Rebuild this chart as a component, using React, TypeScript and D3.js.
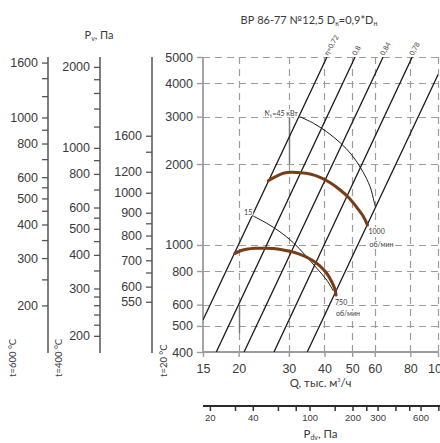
import React, { useEffect, useRef } from "react";
import * as d3 from "d3";

// main field: Q, thousand m3/h  vs  Pv, Pa (t=20 °C)
const qTicks = [15, 20, 30, 40, 50, 60, 80, 100];
const pTicks = [400, 500, 600, 800, 1000, 2000, 3000, 4000, 5000];

// dynamic pressure axis (bottom)
const pdvTicks = [20, 30, 40, 60, 80, 100, 150, 200, 250, 300, 400, 500, 600, 800];
const pdvLabels = [20, 40, 100, 200, 300, 600];
const pdvAtQ15 = 17.9;

// fan curves
const rpm1000Q = [25.4, 27.2, 28.7, 30.7, 32.8, 35.6, 38.6, 41.9, 45.4, 48.5, 51.9, 54.8, 56.6];
const rpm1000P = [1734, 1804, 1847, 1862, 1856, 1835, 1784, 1704, 1601, 1504, 1380, 1274, 1186];
const rpm750Q = [19.4, 20.2, 21.3, 22.8, 24.4, 26.5, 28.7, 31.1, 33.7, 36.1, 38.6, 40.7, 42.4, 43.6, 43.9];
const rpm750P = [931, 950, 964, 972, 972, 970, 958, 941, 912, 879, 835, 785, 730, 680, 651];

// installed power lines
const n45Q = [32.8, 36.6, 40.7, 45.4, 49.9, 54.1, 57.8, 59.7, 60.2];
const n45P = [2998, 2834, 2637, 2400, 2160, 1900, 1647, 1448, 1396];
const n15Q = [22.5, 25.1, 27.9, 31.1, 34.2, 37.6, 40.7, 43.0];
const n15P = [1281, 1204, 1120, 1020, 918, 819, 741, 674];

// efficiency lines (upper and lower end)
const etaLabels = ["η=0,72", "0,8", "0,84", "0,78", ""];
const etaTopQ = [40.8, 51.2, 64.2, 81.2, 107];
const etaTopP = [5000, 5000, 5000, 5000, 5000];
const etaLowQ = [15, 16.7, 20.9, 26.6, 34.8];
const etaLowP = [526, 400, 400, 400, 400];

// leader segments on grid
const leaderQ = [30, 20];
const leaderTop = [3000, 600];
const leaderLow = [2000, 470];

// Pv scales for other temperatures
const pv600Ticks = [1600, 1400, 1200, 1000, 900, 800, 700, 600, 550, 500, 450, 400, 350, 300, 250, 200];
const pv600Labels = [1600, 1000, 800, 600, 500, 400, 300, 200];
const pv400Ticks = [2000, 1800, 1600, 1400, 1200, 1000, 900, 800, 700, 600, 550, 500, 450, 400, 350, 300, 280, 260, 240, 220, 200];
const pv400Labels = [2000, 1000, 800, 600, 500, 400, 300, 200];
const pv20Ticks = [550, 600, 650, 700, 750, 800, 850, 900, 1000, 1200, 1400, 1600];
const pv20OnMain = [615, 700, 790, 877, 972, 1084, 1204, 1318, 1564, 1872, 2222, 2548];
const pv20Labels = [550, 600, 700, 800, 900, 1000, 1200, 1600];

const Chart = () => {
  const chartRef = useRef(null);

  useEffect(() => {
    drawChart();
  }, []);

  const drawChart = () => {
    const svg = d3.select(chartRef.current);
    svg.selectAll("*").remove();
    svg.style("font-family", "Lato, 'Liberation Sans', sans-serif");

    const txt = "#3a3a3a";
    const gridColor = "#9c9c9c";
    const left = 203;
    const right = 438;
    const top = 57;
    const bottom = 352;
    const pdvY = 406;

    const x = d3.scaleLog().domain([15, 100]).range([left, right]);
    const y = d3.scaleLog().domain([400, 5000]).range([bottom, top]);

    const pdv = d3
      .scaleLog()
      .domain([pdvAtQ15, pdvAtQ15 * Math.pow(100 / 15, 2)])
      .range([left, right]);

    svg
      .append("defs")
      .append("clipPath")
      .attr("id", "plot")
      .append("rect")
      .attr("x", left)
      .attr("y", top)
      .attr("width", right - left)
      .attr("height", bottom - top);

    // title
    const title = svg
      .append("text")
      .attr("x", 309)
      .attr("y", 24)
      .attr("text-anchor", "middle")
      .attr("font-size", 11)
      .attr("fill", txt);
    title.append("tspan").text("ВР 86-77 №12,5    D");
    title.append("tspan").attr("font-size", 7).attr("dy", 2).text("к");
    title.append("tspan").attr("dy", -2).text("=0,9*D");
    title.append("tspan").attr("font-size", 7).attr("dy", 2).text("н");

    // grid
    const grid = svg.append("g");
    qTicks.slice(1).forEach((q) => {
      grid
        .append("path")
        .attr("d", `M${Math.round(x(q)) + 0.5},${y(5000)}V${y(400)}`)
        .attr("fill", "none")
        .attr("stroke", gridColor)
        .attr("stroke-width", 1.2)
        .attr("stroke-dasharray", "7,5");
    });
    pTicks.slice(1).forEach((p) => {
      grid
        .append("path")
        .attr("d", `M${x(15)},${Math.round(y(p)) + 0.5}H${x(100)}`)
        .attr("fill", "none")
        .attr("stroke", gridColor)
        .attr("stroke-width", 1.2)
        .attr("stroke-dasharray", "7,5");
    });

    leaderQ.forEach((q, i) => {
      grid
        .append("path")
        .attr("d", `M${Math.round(x(q)) + 0.5},${y(leaderTop[i])}V${y(leaderLow[i])}`)
        .attr("stroke", "#777")
        .attr("stroke-width", 1.4);
    });

    // main axes
    const yAxis = svg
      .append("g")
      .attr("transform", `translate(${left},0)`)
      .call(
        d3
          .axisLeft(y)
          .tickValues(pTicks)
          .tickFormat(d3.format("d"))
          .tickSize(6)
          .tickSizeOuter(0)
          .tickPadding(4)
      );
    yAxis.select(".domain").remove();
    yAxis.selectAll(".tick line").attr("stroke", gridColor).attr("stroke-width", 1.4);
    yAxis.selectAll("text").attr("font-size", 12.5).attr("fill", txt);

    const xAxis = svg
      .append("g")
      .attr("transform", `translate(0,${bottom})`)
      .call(
        d3
          .axisBottom(x)
          .tickValues(qTicks)
          .tickFormat(d3.format("d"))
          .tickSize(5)
          .tickSizeOuter(0)
          .tickPadding(7)
      );
    xAxis.select(".domain").remove();
    xAxis.selectAll(".tick line").attr("stroke", gridColor).attr("stroke-width", 1.4);
    xAxis.selectAll("text").attr("font-size", 12.5).attr("fill", txt);

    svg
      .append("path")
      .attr("d", `M${left},${top}V${bottom}H${right}`)
      .attr("fill", "none")
      .attr("stroke", gridColor)
      .attr("stroke-width", 1.8);

    const qLabel = svg
      .append("text")
      .attr("x", (left + right) / 2)
      .attr("y", 387)
      .attr("text-anchor", "middle")
      .attr("font-size", 11.5)
      .attr("fill", txt);
    qLabel.append("tspan").text("Q, тыс. м");
    qLabel.append("tspan").attr("font-size", 5).attr("dy", -5).text("3");
    qLabel.append("tspan").attr("dy", 5).text("/ч");

    // dynamic pressure axis
    const pdvAxis = svg
      .append("g")
      .attr("transform", `translate(0,${pdvY})`)
      .call(
        d3
          .axisBottom(pdv)
          .tickValues(pdvTicks)
          .tickFormat((d) => (pdvLabels.includes(d) ? String(d) : ""))
          .tickSize(5)
          .tickSizeOuter(0)
          .tickPadding(3)
      );
    pdvAxis.select(".domain").remove();
    pdvAxis.selectAll(".tick line").attr("stroke", "#333").attr("stroke-width", 1.5);
    pdvAxis.selectAll("text").attr("font-size", 9.5).attr("fill", txt);

    svg
      .append("rect")
      .attr("x", left)
      .attr("y", pdvY - 1)
      .attr("width", 440 - left)
      .attr("height", 2)
      .attr("fill", "#2a2a2a");

    const pdvLabel = svg
      .append("text")
      .attr("x", (left + right) / 2)
      .attr("y", 438)
      .attr("text-anchor", "middle")
      .attr("font-size", 11.5)
      .attr("fill", txt);
    pdvLabel.append("tspan").text("P");
    pdvLabel.append("tspan").attr("font-size", 7).attr("dy", 2).text("dv");
    pdvLabel.append("tspan").attr("dy", -2).text(", Па");

    // plot content
    const plot = svg.append("g").attr("clip-path", "url(#plot)");

    const line = d3
      .line()
      .x((d) => x(d[0]))
      .y((d) => y(d[1]));

    const etaData = etaTopQ.map((q, i) => [
      [q, etaTopP[i]],
      [etaLowQ[i], etaLowP[i]],
    ]);

    plot
      .selectAll(".eta")
      .data(etaData)
      .join("path")
      .attr("fill", "none")
      .attr("stroke", "#1a1a1a")
      .attr("stroke-width", 1.3)
      .attr("d", (d) => line(d));

    const smooth = d3
      .line()
      .x((d) => x(d[0]))
      .y((d) => y(d[1]))
      .curve(d3.curveCatmullRom);

    const n45 = n45Q.map((q, i) => [q, n45P[i]]);
    const n15 = n15Q.map((q, i) => [q, n15P[i]]);
    [n45, n15].forEach((d) => {
      plot
        .append("path")
        .datum(d)
        .attr("fill", "none")
        .attr("stroke", "#1a1a1a")
        .attr("stroke-width", 1)
        .attr("d", smooth);
    });

    const r1000 = rpm1000Q.map((q, i) => [q, rpm1000P[i]]);
    const r750 = rpm750Q.map((q, i) => [q, rpm750P[i]]);
    [r1000, r750].forEach((d) => {
      plot
        .append("path")
        .datum(d)
        .attr("fill", "none")
        .attr("stroke", "#7a3b17")
        .attr("stroke-width", 3)
        .attr("stroke-linecap", "round")
        .attr("d", smooth);
    });

    // small labels
    const small = (sx, sy, s, anchor = "start") =>
      svg
        .append("text")
        .attr("x", sx)
        .attr("y", sy)
        .attr("text-anchor", anchor)
        .attr("font-size", 7)
        .attr("fill", txt)
        .attr("stroke", "#fff")
        .attr("stroke-width", 2.5)
        .attr("paint-order", "stroke")
        .text(s);

    etaLabels.forEach((s, i) => {
      if (!s) return;
      svg
        .append("text")
        .attr("transform", `translate(${x(etaTopQ[i]) + 1},${y(etaTopP[i]) - 1}) rotate(-60)`)
        .attr("font-size", 7)
        .attr("fill", txt)
        .text(s);
    });

    const n45Text = small(x(n45Q[0]) - 2, y(n45P[0]) - 1, "", "end");
    n45Text.append("tspan").text("N");
    n45Text.append("tspan").attr("font-size", 5).attr("dy", 1.5).text("у");
    n45Text.append("tspan").attr("dy", -1.5).text("=45 кВт");

    small(x(n15Q[0]) - 1, y(n15P[0]) - 1, "15", "end");

    const e1000 = r1000[r1000.length - 1];
    small(x(e1000[0]) + 1, y(e1000[1]) + 9, "1000");
    small(x(e1000[0]) + 2, y(e1000[1]) + 22, "об/мин");
    const e750 = r750[r750.length - 1];
    small(x(e750[0]) - 1, y(e750[1]) + 10, "750");
    small(x(e750[0]), y(e750[1]) + 21, "об/мин");

    // Pv axes for other temperatures
    const f600 = 293 / 873;
    const f400 = 293 / 673;
    const pv600 = d3.scaleLog().domain([400 * f600, 5000 * f600]).range([bottom, top]);
    const pv400 = d3.scaleLog().domain([400 * f400, 5000 * f400]).range([bottom, top]);
    const pv20 = d3.scaleLinear().domain(pv20Ticks).range(pv20OnMain.map((p) => y(p)));

    const auxAxes = [
      { pos: 48, scale: pv600, ticks: pv600Ticks, labels: pv600Labels, name: "t=600 °C", nx: 15.5 },
      { pos: 100, scale: pv400, ticks: pv400Ticks, labels: pv400Labels, name: "t=400 °C", nx: 62 },
      { pos: 152, scale: pv20, ticks: pv20Ticks, labels: pv20Labels, name: "t=20 °C", nx: 167 },
    ];

    auxAxes.forEach((a) => {
      const g = svg
        .append("g")
        .attr("transform", `translate(${a.pos},0)`)
        .call(
          d3
            .axisLeft(a.scale)
            .tickValues(a.ticks)
            .tickFormat((d) => (a.labels.includes(d) ? String(d) : ""))
            .tickSize(6)
            .tickSizeOuter(0)
            .tickPadding(4)
        );
      g.select(".domain").remove();
      g.selectAll(".tick line").attr("stroke", "#555").attr("stroke-width", 1.3);
      g.selectAll("text").attr("font-size", 12.5).attr("fill", txt);
      g.append("path")
        .attr("d", `M0,${top}V${bottom + 1}`)
        .attr("stroke", "#555")
        .attr("stroke-width", 1.5);

      svg
        .append("text")
        .attr("transform", `translate(${a.nx},377) rotate(-90)`)
        .attr("font-size", 9.5)
        .attr("fill", txt)
        .text(a.name);
    });

    const pvTitle = svg
      .append("text")
      .attr("x", 99)
      .attr("y", 39)
      .attr("text-anchor", "middle")
      .attr("font-size", 11)
      .attr("fill", txt);
    pvTitle.append("tspan").text("P");
    pvTitle.append("tspan").attr("font-size", 7).attr("dy", 2).text("v");
    pvTitle.append("tspan").attr("dy", -2).text(", Па");
  };

  return <svg ref={chartRef} width={440} height={443} style={{ display: "block" }}></svg>;
};

export default function App() {
  return (
    <div style={{ position: "absolute", left: 0, top: 0, width: 440, height: 443, overflow: "hidden", background: "#fff" }}>
      <Chart />
    </div>
  );
}
